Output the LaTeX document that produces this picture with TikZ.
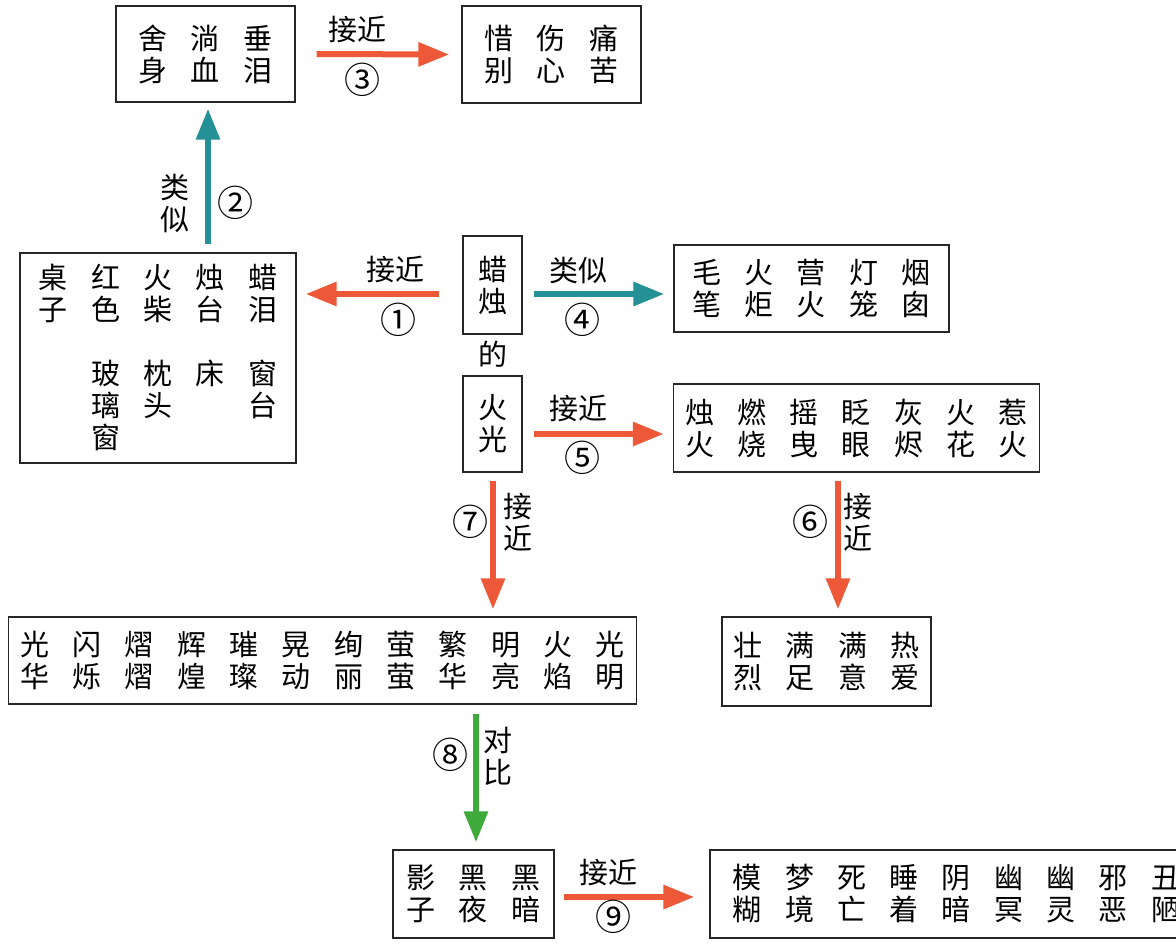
\documentclass[tikz,border=0pt]{standalone}
\usepackage{fontspec}
\newfontfamily\cjk{Noto Sans CJK SC}
\usetikzlibrary{arrows.meta}
\definecolor{aorange}{RGB}{236,88,56}
\definecolor{ateal}{RGB}{35,145,150}
\definecolor{agreen}{RGB}{62,170,60}
\newcommand{\cc}[1]{\makebox[52.3pt]{#1}}
\begin{document}
\begin{tikzpicture}[x=1pt,y=-1pt,
  every node/.style={font=\cjk\fontsize{29}{32}\selectfont, inner sep=0pt},
  box/.style={draw=black!85, line width=1.3pt, align=center},
  arr/.style={line width=6pt, -{Triangle[length=31pt,width=23pt]}},
  oarr/.style={arr, draw=aorange},
  tarr/.style={arr, draw=ateal},
  garr/.style={arr, draw=agreen},
  lbl/.style={align=center},
  num/.style={font=\cjk\fontsize{36}{36}\selectfont}]
\useasboundingbox (0,0) rectangle (1176,945);
\clip (0,0) rectangle (1176,945);
\fill[white] (0,0) rectangle (1176,945);

% boxes
\node[box, minimum width=179pt, minimum height=96pt] (b1) at (205.5,54)
  {\cc{舍}\cc{淌}\cc{垂}\\\cc{身}\cc{血}\cc{泪}};
\node[box, minimum width=179pt, minimum height=97pt] (b2) at (551.5,54.5)
  {\cc{惜}\cc{伤}\cc{痛}\\\cc{别}\cc{心}\cc{苦}};
\node[box, minimum width=276pt, minimum height=210pt] (b3) at (158,358)
  {\cc{桌}\cc{红}\cc{火}\cc{烛}\cc{蜡}\\
   \cc{子}\cc{色}\cc{柴}\cc{台}\cc{泪}\\
   \cc{}\cc{}\cc{}\cc{}\cc{}\\
   \cc{}\cc{玻}\cc{枕}\cc{床}\cc{窗}\\
   \cc{}\cc{璃}\cc{头}\cc{}\cc{台}\\
   \cc{}\cc{窗}\cc{}\cc{}\cc{}};
\node[box, minimum width=59pt, minimum height=98pt] (b4) at (492.5,285) {蜡\\烛};
\node (de) at (493,354) {的};
\node[box, minimum width=59pt, minimum height=96pt] (b5) at (492.5,424) {火\\光};
\node[box, minimum width=275pt, minimum height=87pt] (b6) at (811.5,288.5)
  {\cc{毛}\cc{火}\cc{营}\cc{灯}\cc{烟}\\\cc{笔}\cc{炬}\cc{火}\cc{笼}\cc{囱}};
\node[box, minimum width=365pt, minimum height=88pt] (b7) at (856.5,428)
  {\cc{烛}\cc{燃}\cc{摇}\cc{眨}\cc{灰}\cc{火}\cc{惹}\\\cc{火}\cc{烧}\cc{曳}\cc{眼}\cc{烬}\cc{花}\cc{火}};
\node[box, minimum width=625pt, minimum height=87pt] (b8) at (322.5,660.5)
  {\cc{光}\cc{闪}\cc{熠}\cc{辉}\cc{璀}\cc{晃}\cc{绚}\cc{萤}\cc{繁}\cc{明}\cc{火}\cc{光}\\
   \cc{华}\cc{烁}\cc{熠}\cc{煌}\cc{璨}\cc{动}\cc{丽}\cc{萤}\cc{华}\cc{亮}\cc{焰}\cc{明}};
\node[box, minimum width=209pt, minimum height=89pt] (b9) at (826.5,661.5)
  {\cc{壮}\cc{满}\cc{满}\cc{热}\\\cc{烈}\cc{足}\cc{意}\cc{爱}};
\node[box, minimum width=161pt, minimum height=88pt] (b10) at (473.5,894)
  {\cc{影}\cc{黑}\cc{黑}\\\cc{子}\cc{夜}\cc{暗}};
\node[box, minimum width=493pt, minimum height=88pt] (b11) at (956.5,894)
  {\cc{模}\cc{梦}\cc{死}\cc{睡}\cc{阴}\cc{幽}\cc{幽}\cc{邪}\cc{丑}\\
   \cc{糊}\cc{境}\cc{亡}\cc{着}\cc{暗}\cc{冥}\cc{灵}\cc{恶}\cc{陋}};

% arrows
\draw[oarr] ([shift={(-23,9)}]b4.west) -- ([shift={(9,-64)}]b3.east);
\draw[tarr] ([shift={(50,-8)}]b3.north) -- ([shift={(2.5,6)}]b1.south);
\draw[oarr] ([shift={(21,0)}]b1.east) -- ([shift={(-12,0)}]b2.west);
\draw[tarr] ([shift={(11,9)}]b4.east) -- ([shift={(-9,5.5)}]b6.west);
\draw[oarr] ([shift={(11,10)}]b5.east) -- ([shift={(-9,6)}]b7.west);
\draw[oarr] ([shift={(-18.5,8)}]b7.south) -- ([shift={(11.5,-7)}]b9.north);
\draw[oarr] ([shift={(0.5,8)}]b5.south) -- ([shift={(170.5,-7)}]b8.north);
\draw[garr] ([shift={(153.5,9)}]b8.south) -- ([shift={(2.5,-7)}]b10.north);
\draw[oarr] ([shift={(9,3)}]b10.east) -- ([shift={(-15,3)}]b11.west);

% labels
\node (l1a) at (395,270) {接近};
\node[num] (l1b) at (398,320) {①};
\node[lbl] (l2a) at (175,203) {类\\似};
\node[num] (l2b) at (235,203) {②};
\node (l3a) at (357,30) {接近};
\node[num] (l3b) at (362,80) {③};
\node (l4a) at (578,270) {类似};
\node[num] (l4b) at (582,320) {④};
\node (l5a) at (578,409) {接近};
\node[num] (l5b) at (582,458) {⑤};
\node[lbl] (l6a) at (858,522) {接\\近};
\node[num] (l6b) at (810,522) {⑥};
\node[lbl] (l7a) at (518,522) {接\\近};
\node[num] (l7b) at (470,522) {⑦};
\node[lbl] (l8a) at (498,756) {对\\比};
\node[num] (l8b) at (450,755) {⑧};
\node (l9a) at (608,872) {接近};
\node[num] (l9b) at (613,917) {⑨};
\end{tikzpicture}
\end{document}
